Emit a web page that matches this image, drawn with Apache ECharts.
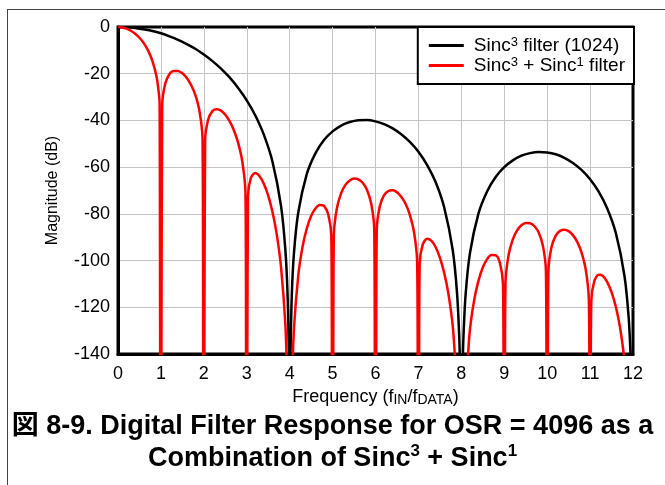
<!DOCTYPE html>
<html>
<head>
<meta charset="utf-8">
<script src="https://cdn.jsdelivr.net/npm/echarts@6/dist/echarts.min.js"></script>
<style>
  html, body { margin: 0; padding: 0; background: #fff; }
  #chart { width: 665px; height: 485px; }
</style>
</head>
<body>
<div id="chart"></div>
<script>
// Sinc3 filter (1024)
const sinc3Freq = [0, 0.2, 0.4, 0.6, 0.8, 1.0, 1.2, 1.4, 1.6, 1.8, 2.0, 2.2, 2.4, 2.6, 2.8, 3.0, 3.2, 3.4, 3.6, 3.8,
  3.9, 3.95, 3.98, 4.0, 4.02, 4.05, 4.1,
  4.2, 4.4, 4.6, 4.8, 5.0, 5.2, 5.4, 5.6, 5.8, 6.0, 6.2, 6.4, 6.6, 6.8, 7.0, 7.2, 7.4, 7.6, 7.8,
  7.9, 7.95, 8.0, 8.05, 8.1,
  8.2, 8.4, 8.6, 8.8, 9.0, 9.2, 9.4, 9.6, 9.8, 10.0, 10.2, 10.4, 10.6, 10.8, 11.0, 11.2, 11.4, 11.6, 11.8,
  11.9, 11.95, 12];
const sinc3Db = [0, -0.1, -0.4, -1.0, -1.7, -2.7, -4.0, -5.5, -7.3, -9.3, -11.8, -14.6, -17.8, -21.6, -26.1, -31.4, -37.9, -46.2, -57.7, -76.8,
  -95.5, -113.9, -137.9, -160, -138.2, -114.5, -96.8,
  -79.4, -62.9, -54.1, -48.4, -44.7, -42.2, -40.7, -39.9, -39.8, -40.4, -41.6, -43.4, -45.9, -49.2, -53.4, -59.0, -66.4, -77.2, -95.6,
  -113.9, -132.1, -160, -132.4, -114.5,
  -96.9, -79.8, -70.4, -64.2, -60.0, -57.1, -55.1, -54.0, -53.5, -53.7, -54.5, -56.0, -58.2, -61.2, -65.2, -70.5, -77.7, -88.2, -106.4,
  -124.6, -142.7, -160];

// Sinc3 + Sinc1 filter (narrow notches at every integer)
const comboFreq = [0, 0.1, 0.2, 0.3, 0.4, 0.5, 0.6, 0.7, 0.8, 0.9, 0.95, 0.97, 0.99, 1.01,
  1.03, 1.1, 1.2, 1.3, 1.4, 1.5, 1.6, 1.7, 1.8, 1.9, 1.97, 1.99, 2.01,
  2.03, 2.1, 2.2, 2.3, 2.4, 2.5, 2.6, 2.7, 2.8, 2.9, 2.97, 2.99, 3.01,
  3.03, 3.1, 3.2, 3.3, 3.4, 3.5, 3.6, 3.7, 3.8, 3.9, 3.95, 4.0,
  4.05, 4.1, 4.2, 4.3, 4.4, 4.5, 4.6, 4.7, 4.8, 4.9, 4.97, 4.99, 5.01,
  5.03, 5.1, 5.2, 5.3, 5.4, 5.5, 5.6, 5.7, 5.8, 5.9, 5.97, 5.99, 6.01,
  6.03, 6.1, 6.2, 6.3, 6.4, 6.5, 6.6, 6.7, 6.8, 6.9, 6.97, 6.99, 7.01,
  7.03, 7.1, 7.2, 7.3, 7.4, 7.5, 7.6, 7.7, 7.8, 7.9, 8.0,
  8.1, 8.2, 8.3, 8.4, 8.5, 8.6, 8.7, 8.8, 8.9, 8.97, 8.99, 9.01,
  9.03, 9.1, 9.2, 9.3, 9.4, 9.5, 9.6, 9.7, 9.8, 9.9, 9.97, 9.99, 10.01,
  10.03, 10.1, 10.2, 10.3, 10.4, 10.5, 10.6, 10.7, 10.8, 10.9, 10.97, 10.99, 11.01,
  11.03, 11.1, 11.2, 11.3, 11.4, 11.5, 11.6, 11.7, 11.8, 11.9];
const comboDb = [0, -0.2, -0.7, -1.6, -2.9, -4.6, -6.9, -10.0, -14.4, -21.4, -28.1, -32.9, -160, -160,
  -33.5, -24.3, -20.1, -18.8, -18.8, -19.8, -21.7, -24.7, -29.0, -36.2, -47.9, -160, -160,
  -48.6, -39.7, -36.0, -35.2, -35.8, -37.6, -40.3, -44.2, -49.6, -58.0, -70.9, -160, -160,
  -72.1, -64.4, -62.5, -63.9, -67.2, -72.2, -79.2, -88.9, -103.0, -127.5, -151.9, -160,
  -152.7, -129.2, -106.5, -94.1, -86.2, -80.9, -77.7, -76.2, -76.6, -80.3, -89.4, -160, -160,
  -88.9, -77.6, -71.1, -67.6, -65.7, -64.9, -65.2, -66.7, -69.7, -75.6, -86.3, -160, -160,
  -86.6, -76.8, -72.0, -70.2, -69.9, -70.7, -72.7, -75.7, -80.4, -88.1, -100.3, -160, -160,
  -101.1, -93.2, -90.7, -91.5, -94.2, -98.7, -105.2, -114.3, -128.0, -152.0, -160,
  -152.8, -129.7, -116.9, -108.6, -103.0, -99.4, -97.6, -97.7, -101.1, -110.0, -160, -160,
  -109.3, -97.7, -90.9, -87.1, -84.9, -83.9, -84.0, -85.2, -87.9, -93.6, -104.1, -160, -160,
  -104.3, -94.3, -89.3, -87.3, -86.8, -87.4, -89.1, -92.0, -96.5, -104.0, -116.1, -160, -160,
  -117.0, -108.7, -106.1, -106.6, -109.2, -113.5, -119.8, -128.9, -142.4, -160];

const freqRange = [0, 12];
const dbRange = [-140, 0];
const seriesNames = ['Sinc3 filter (1024)', 'Sinc3 + Sinc1 filter'];
const legendLabels = ['Sinc{sup|3} filter (1024)', 'Sinc{sup|3} + Sinc{sup|1} filter'];

const font = "'Liberation Sans', Arial, 'Noto Sans CJK JP', sans-serif";

function pairs(xs, ys) {
  return xs.map((x, i) => [x, ys[i]]);
}

const chart = echarts.init(document.getElementById('chart'));

chart.setOption({
  animation: false,
  backgroundColor: '#fff',
  title: {
    text: '{t|図 8-9. Digital Filter Response for OSR = 4096 as a}\n{t|Combination of Sinc}{s|3}{t| + Sinc}{s|1}',
    left: 'center',
    top: 406,
    padding: [5, 0, 5, 7],
    textStyle: {
      fontSize: 27, fontWeight: 'bold', color: '#000', fontFamily: font, lineHeight: 32,
      rich: {
        t: { fontSize: 27, fontWeight: 'bold', color: '#000', fontFamily: font, lineHeight: 32 },
        s: { fontSize: 17, fontWeight: 'bold', color: '#000', fontFamily: font, lineHeight: 24, verticalAlign: 'top' }
      }
    }
  },
  graphic: [
    { type: 'line', shape: { x1: 7, y1: 9.5, x2: 665, y2: 9.5 }, style: { stroke: '#444', lineWidth: 1 } },
    { type: 'line', shape: { x1: 7.5, y1: 9, x2: 7.5, y2: 485 }, style: { stroke: '#444', lineWidth: 1 } }
  ],
  legend: {
    data: seriesNames,
    formatter: name => legendLabels[seriesNames.indexOf(name)],
    orient: 'vertical',
    right: 31,
    top: 27,
    backgroundColor: '#fff',
    borderColor: '#000',
    borderWidth: 2,
    padding: [9, 9, 9, 11],
    itemGap: 1,
    itemWidth: 35,
    itemHeight: 3,
    icon: 'rect',
    textStyle: {
      fontSize: 19, color: '#000', fontFamily: font, lineHeight: 19, padding: [0, 0, 0, 5],
      rich: { sup: { fontSize: 13, color: '#000', fontFamily: font, lineHeight: 13, verticalAlign: 'top' } }
    }
  },
  grid: {
    left: 118, top: 27, right: 32, bottom: 131,
    show: true, borderColor: '#000', borderWidth: 3
  },
  xAxis: {
    type: 'value',
    min: freqRange[0], max: freqRange[1], interval: 1,
    axisLine: { show: true, onZero: false, lineStyle: { color: '#000', width: 3 } },
    axisTick: { show: false },
    splitLine: { show: true, showMinLine: false, showMaxLine: false, lineStyle: { color: '#c4c4c4', width: 1 } },
    axisLabel: { fontSize: 18, color: '#000', margin: 11, fontFamily: font },
    name: 'Frequency (f{sub|IN}/f{sub|DATA})',
    nameLocation: 'middle',
    nameGap: 28,
    nameTextStyle: {
      fontSize: 18, color: '#000', fontFamily: font, lineHeight: 19,
      rich: { sub: { fontSize: 14, color: '#000', fontFamily: font, lineHeight: 14, verticalAlign: 'bottom' } }
    }
  },
  yAxis: {
    type: 'value',
    min: dbRange[0], max: dbRange[1], interval: 20,
    axisLine: { show: true, onZero: false, lineStyle: { color: '#000', width: 3 } },
    axisTick: { show: false },
    splitLine: { show: true, showMinLine: false, showMaxLine: false, lineStyle: { color: '#c4c4c4', width: 1 } },
    axisLabel: { fontSize: 18, color: '#000', margin: 8, fontFamily: font },
    name: 'Magnitude (dB)',
    nameLocation: 'middle',
    nameGap: 57,
    nameTextStyle: { fontSize: 16, color: '#000', fontFamily: font }
  },
  series: [
    {
      name: seriesNames[0],
      type: 'line',
      data: pairs(sinc3Freq, sinc3Db),
      symbol: 'none',
      smooth: 0.3,
      clip: true,
      lineStyle: { color: '#000', width: 2.5 },
      itemStyle: { color: '#000' }
    },
    {
      name: seriesNames[1],
      type: 'line',
      data: pairs(comboFreq, comboDb),
      symbol: 'none',
      smooth: 0.3,
      clip: true,
      lineStyle: { color: '#ff0000', width: 2.5 },
      itemStyle: { color: '#ff0000' }
    }
  ]
});
</script>
</body>
</html>
